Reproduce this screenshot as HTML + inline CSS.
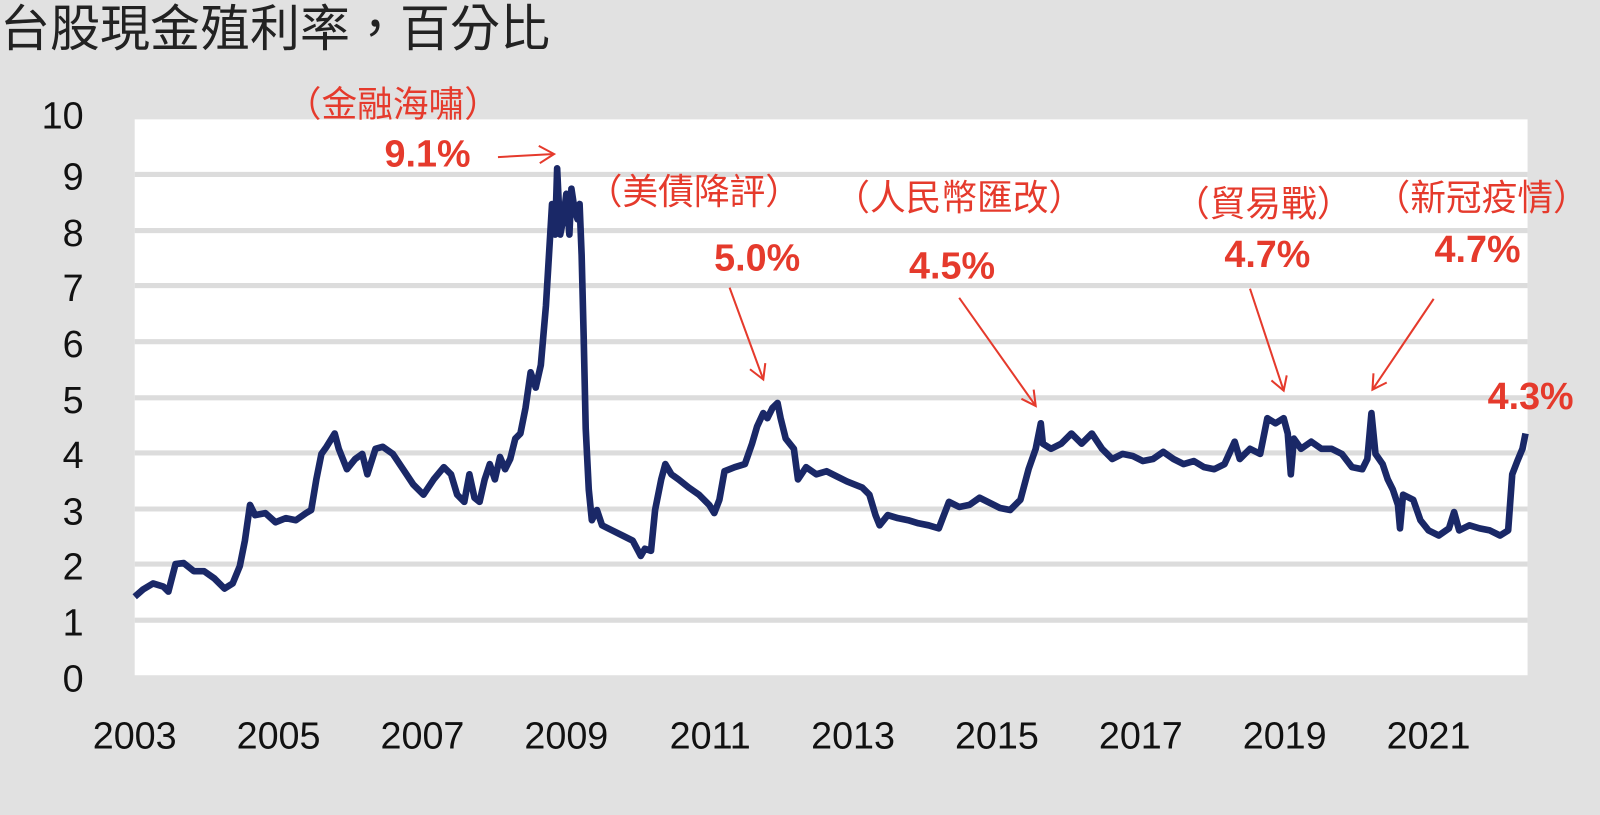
<!DOCTYPE html>
<html><head><meta charset="utf-8"><style>
html,body{margin:0;padding:0;background:#e1e1e1;}
svg{display:block}
text{font-family:"Liberation Sans","Noto Sans CJK TC",sans-serif}
</style></head><body>
<svg width="1600" height="815" viewBox="0 0 1568 799" preserveAspectRatio="none" xmlns="http://www.w3.org/2000/svg">
<rect width="1568" height="799" fill="#e1e1e1"/>
<text x="0" y="45" font-size="49" fill="#222">台股現金殖利率，百分比</text>
<rect x="132" y="117" width="1365" height="545" fill="#fff"/>
<g stroke="#dcdcdc" stroke-width="5">
<line x1="132" x2="1497" y1="608" y2="608"/><line x1="132" x2="1497" y1="553" y2="553"/>
<line x1="132" x2="1497" y1="499" y2="499"/><line x1="132" x2="1497" y1="444" y2="444"/>
<line x1="132" x2="1497" y1="390" y2="390"/><line x1="132" x2="1497" y1="335" y2="335"/>
<line x1="132" x2="1497" y1="280" y2="280"/><line x1="132" x2="1497" y1="226" y2="226"/>
<line x1="132" x2="1497" y1="171" y2="171"/>
</g>
<g font-size="37" fill="#111" text-anchor="end">
<text x="82" y="678">0</text><text x="82" y="623">1</text><text x="82" y="568">2</text>
<text x="82" y="514">3</text><text x="82" y="459">4</text><text x="82" y="405">5</text>
<text x="82" y="350">6</text><text x="82" y="295">7</text><text x="82" y="241">8</text>
<text x="82" y="186">9</text><text x="82" y="126">10</text>
</g>
<g font-size="37" fill="#111" text-anchor="middle">
<text x="132" y="734">2003</text><text x="273" y="734">2005</text><text x="414" y="734">2007</text>
<text x="555" y="734">2009</text><text x="696" y="734">2011</text><text x="836" y="734">2013</text>
<text x="977" y="734">2015</text><text x="1118" y="734">2017</text><text x="1259" y="734">2019</text>
<text x="1400" y="734">2021</text>
</g>
<polyline fill="none" stroke="#1a2867" stroke-width="6.5" stroke-linejoin="round" points="132,585 140,578 150,572 160,575 165,580 172,553 180,552 190,560 200,560 210,567 220,577 228,572 235,555 240,530 245,495 250,505 260,503 270,512 280,508 290,510 300,503 305,500 310,470 315,445 320,438 328,425 332,440 340,460 348,450 355,445 360,465 368,440 375,438 385,445 395,460 405,475 415,485 425,470 435,458 442,465 448,485 455,492 460,465 465,488 470,492 475,470 480,455 485,470 490,448 495,460 500,450 505,430 510,425 515,400 520,365 525,380 530,358 535,300 538,250 541,200 544,230 546,165 549,230 552,215 555,190 558,230 560,185 563,205 566,215 568,200 570,250 572,330 574,420 577,480 580,510 585,500 590,515 600,520 610,525 620,530 628,545 632,538 638,540 642,500 648,470 652,455 658,465 665,470 675,478 685,485 695,495 700,503 705,490 710,462 720,458 730,455 737,435 742,418 748,405 752,410 757,400 762,395 765,410 770,430 778,440 782,470 790,458 800,465 810,462 820,467 830,472 845,478 852,485 858,505 862,515 870,505 880,508 890,510 900,513 910,515 920,518 925,505 930,492 940,497 950,495 960,488 970,493 980,498 990,500 1000,490 1008,460 1015,440 1020,415 1022,435 1030,440 1040,435 1050,425 1060,435 1070,425 1080,440 1090,450 1100,445 1110,447 1120,452 1130,450 1140,443 1150,450 1160,455 1170,452 1180,458 1190,460 1200,455 1210,433 1215,450 1225,440 1235,445 1242,410 1250,415 1258,410 1262,425 1265,465 1268,430 1275,440 1285,433 1295,440 1305,440 1315,445 1325,458 1335,460 1340,450 1344,405 1348,445 1355,455 1360,470 1365,480 1370,495 1372,518 1375,485 1385,490 1392,510 1400,520 1410,525 1420,518 1425,502 1430,520 1440,515 1450,518 1460,520 1470,525 1478,520 1482,465 1487,452 1492,440 1495,425"/>
<g fill="#e53a2c" text-anchor="middle">
<text x="385" y="114" font-size="35">（金融海嘯）</text>
<text x="419" y="163" font-size="37" font-weight="bold">9.1%</text>
<text x="680" y="200" font-size="35">（美債降評）</text>
<text x="742" y="265" font-size="37" font-weight="bold">5.0%</text>
<text x="940" y="206" font-size="35">（人民幣匯改）</text>
<text x="933" y="273" font-size="37" font-weight="bold">4.5%</text>
<text x="1238" y="212" font-size="35">（貿易戰）</text>
<text x="1242" y="262" font-size="37" font-weight="bold">4.7%</text>
<text x="1452" y="206" font-size="35">（新冠疫情）</text>
<text x="1448" y="257" font-size="37" font-weight="bold">4.7%</text>
<text x="1500" y="401" font-size="37" font-weight="bold">4.3%</text>
</g>
<g stroke="#e53a2c" stroke-width="2" fill="none">
<line x1="488" y1="154" x2="543" y2="151"/><polyline points="528,143 543,151 529,160"/>
<line x1="715" y1="282" x2="748" y2="372"/><polyline points="735,362 748,372 750,356"/>
<line x1="940" y1="292" x2="1015" y2="398"/><polyline points="1001,391 1015,398 1013,382"/>
<line x1="1225" y1="283" x2="1258" y2="383"/><polyline points="1246,373 1258,383 1261,368"/>
<line x1="1405" y1="293" x2="1345" y2="382"/><polyline points="1346,366 1345,382 1359,375"/>
</g>
</svg>
</body></html>
